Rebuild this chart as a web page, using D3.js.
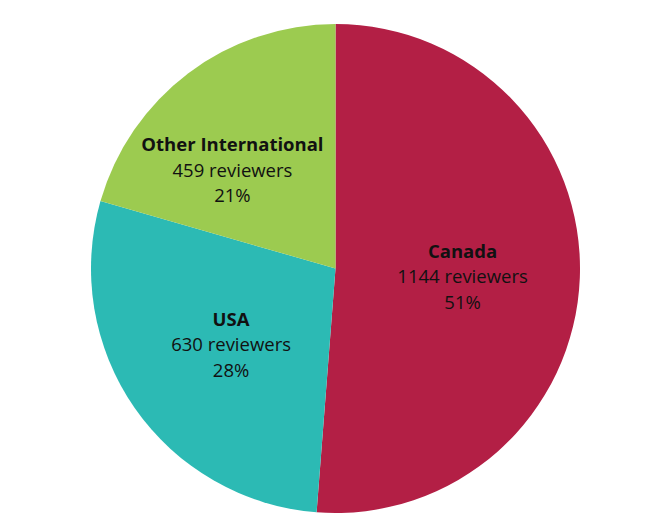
<!DOCTYPE html>
<html><head><meta charset="utf-8">
<script src="https://cdn.jsdelivr.net/npm/d3@7"></script>
<style>body{margin:0;background:#fff}svg{display:block}</style>
</head><body>
<svg id="c" width="650" height="517"></svg>
<script>
const categories = ["Canada", "USA", "Other International"];
const reviewers = [1144, 630, 459];
const percentLabels = ["51%", "28%", "21%"];
const colors = ["#B31F45", "#2CBAB4", "#9CCB50"];

const svg = d3.select("#c");
const cx = 335.5, cy = 268.5, r = 244.5;
const fontSize = 18.5, lineH = 25.5, pad = 12, baseShift = 10;
const g = svg.append("g").attr("transform", `translate(${cx},${cy})`);
const data = categories.map((c, i) => ({ cat: c, val: reviewers[i], pct: percentLabels[i], color: colors[i] }));
const pie = d3.pie().sort(null).value(d => d.val);
const arc = d3.arc().innerRadius(0).outerRadius(r);
const labelArc = d3.arc().innerRadius(r * 0.52).outerRadius(r * 0.52);
const arcs = pie(data);
g.selectAll("path").data(arcs).join("path").attr("d", arc).attr("fill", d => d.data.color);

const lab = g.selectAll("text").data(arcs).join("text")
  .attr("font-family", "'Open Sans', sans-serif").attr("font-size", fontSize).attr("fill", "#111")
  .attr("text-anchor", "middle");
lab.append("tspan").attr("x", 0).attr("y", -lineH + baseShift).attr("font-weight", "bold").text(d => d.data.cat);
lab.append("tspan").attr("x", 0).attr("y", baseShift).text(d => d.data.val + " reviewers");
lab.append("tspan").attr("x", 0).attr("y", lineH + baseShift).text(d => d.data.pct);

// place at centroid, then keep the block off the 12 o'clock divider
lab.attr("transform", function(d) {
  let [x, y] = labelArc.centroid(d);
  const half = this.getBBox().width / 2;
  if (x < 0 && x + half > -pad) x = -pad - half;
  if (x > 0 && x - half < pad) x = pad + half;
  return `translate(${x},${y})`;
});
</script>
</body></html>
